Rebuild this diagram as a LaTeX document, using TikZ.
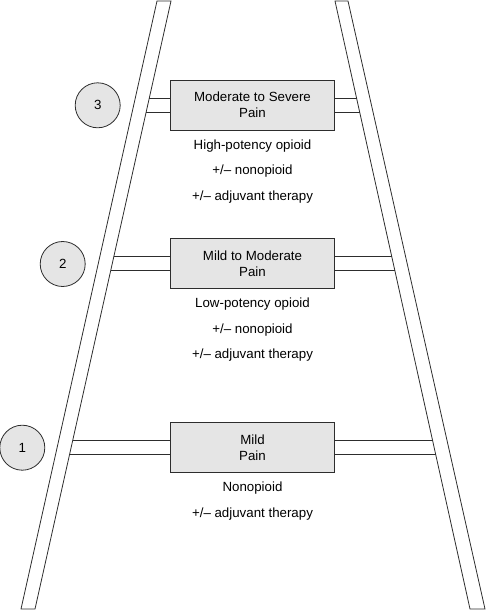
\documentclass[tikz,border=0pt]{standalone}
\usepackage{fontspec}
\setmainfont{Liberation Sans}
\usetikzlibrary{positioning,calc,intersections}
\definecolor{lineGray}{RGB}{45,45,45}
\definecolor{boxGray}{RGB}{229,229,229}
\tikzset{
  rail/.style={draw=lineGray, line width=0.8pt},
  rung/.style={draw=lineGray, line width=0.8pt},
  painbox/.style={draw=lineGray, line width=0.8pt, fill=boxGray, minimum width=164pt, minimum height=50pt, align=center, font=\fontsize{13.3}{15.6}\selectfont},
  stepnum/.style={draw=lineGray, line width=0.8pt, fill=boxGray, circle, minimum size=45pt, inner sep=0pt, font=\fontsize{13.3}{16}\selectfont},
  drugs/.style={align=center, inner sep=0pt, font=\fontsize{13.3}{25.5}\selectfont}
}

\begin{document}
\begin{tikzpicture}[x=1pt, y=-1pt, node distance=9pt]
  \useasboundingbox (0,0) rectangle (487,610);
  % ladder rails
  \draw[rail] (157,1) -- (171,1) -- (35,609) -- (21,609) -- cycle;
  \draw[rail] (335,1) -- (348,1) -- (485,609) -- (470,609) -- cycle;
  \path[name path=leftin] (171,1) -- (35,609);
  \path[name path=rightin] (335,1) -- (470,609);

  \node[painbox] (b3) at (252.5,105) {Moderate to Severe\\Pain};
  \node[painbox] (b2) at (252.5,263.5) {Mild to Moderate\\Pain};
  \node[painbox] (b1) at (252.5,447.5) {Mild\\Pain};

  \node[drugs, below=of b3] (d3) {High-potency opioid\\+/– nonopioid\\+/– adjuvant therapy};
  \node[drugs, below=of b2] (d2) {Low-potency opioid\\+/– nonopioid\\+/– adjuvant therapy};
  \node[drugs, below=of b1] (d1) {Nonopioid\\+/– adjuvant therapy};

  \node[stepnum] (s3) at (97.7,105.3) {3};
  \node[stepnum] (s2) at (62.7,264) {2};
  \node[stepnum] (s1) at (22.3,447.7) {1};

  % rungs
  \foreach \b in {b1,b2,b3}
    \foreach \d in {-7,7} {
      \path[name path=lh] ($(\b.west)+(0,\d)$) -- ++(-200,0);
      \path[name path=rh] ($(\b.east)+(0,\d)$) -- ++(200,0);
      \draw[rung, name intersections={of=lh and leftin, name=li}] (li-1) -- ($(\b.west)+(0,\d)$);
      \draw[rung, name intersections={of=rh and rightin, name=ri}] (ri-1) -- ($(\b.east)+(0,\d)$);
    }
\end{tikzpicture}
\end{document}
